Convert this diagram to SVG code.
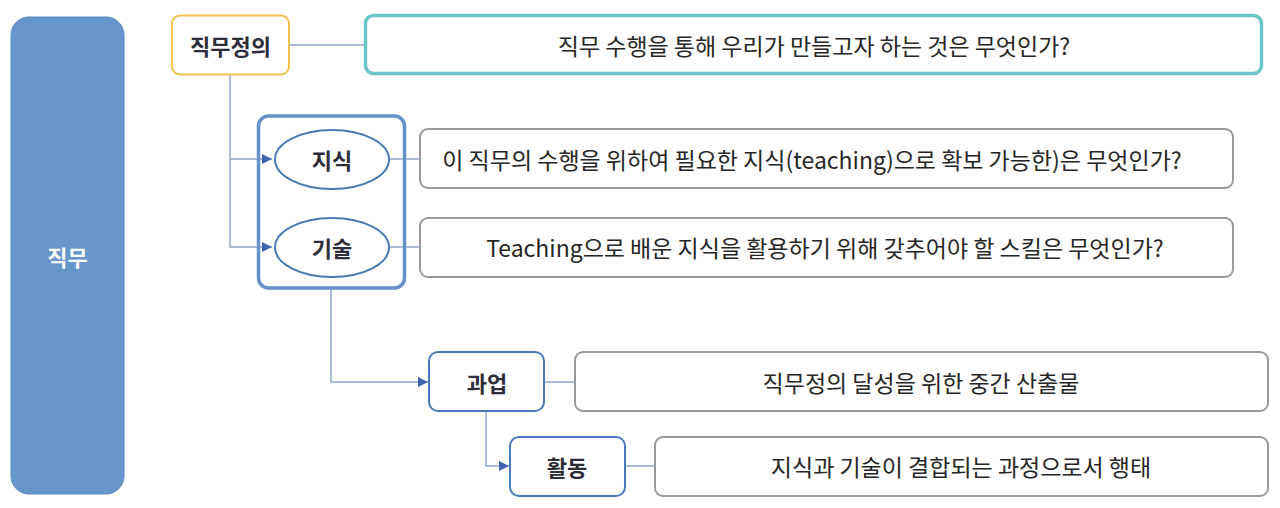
<svg xmlns="http://www.w3.org/2000/svg" width="1280" height="508" viewBox="0 0 1280 508">
<style>
.lbl{font-family:"Noto Sans CJK KR","Noto Sans",sans-serif;font-weight:bold;font-size:22px;fill:#2d2d3a;text-anchor:middle;dominant-baseline:central}
.desc{font-family:"Noto Sans CJK KR","Noto Sans",sans-serif;font-size:23px;fill:#262626;text-anchor:middle;dominant-baseline:central}
.gray{fill:#fff;stroke:#9a9a9a;stroke-width:2}
.blue{fill:#fff;stroke:#4a79b8;stroke-width:2}
.con{fill:none;stroke:#8ea6cc;stroke-width:1.5}
</style>
<defs>
<marker id="arr" viewBox="0 0 10 10" refX="10" refY="5" markerWidth="10" markerHeight="10" markerUnits="userSpaceOnUse" orient="auto">
<path d="M0,0 L10,5 L0,10 z" fill="#3f62b0"/>
</marker>
</defs>
<g id="connectors">
<path class="con" d="M289,45 H365"/>
<path class="con" d="M230,75 V247 H272" marker-end="url(#arr)"/>
<path class="con" d="M230,159 H272" marker-end="url(#arr)"/>
<path class="con" d="M389,159 H420"/>
<path class="con" d="M389,247 H420"/>
<path class="con" d="M331,288 V382 H428" marker-end="url(#arr)"/>
<path class="con" d="M544,382 H575"/>
<path class="con" d="M486,411 V466 H509" marker-end="url(#arr)"/>
<path class="con" d="M625,466 H655"/>
</g>
<g id="jikmu">
<rect x="11" y="17" width="113" height="477" rx="18" fill="#6696cb" stroke="#5b88c0" stroke-width="1"/>
<text x="67.5" y="256" class="lbl" style="fill:#fff">직무</text>
</g>
<g id="jikmujeongui">
<rect x="172" y="15.5" width="117" height="59" rx="8" fill="#fff" stroke="#f1c24a" stroke-width="2"/>
<text x="230.5" y="45" class="lbl">직무정의</text>
</g>
<g id="desc-jeongui">
<rect x="365.5" y="15.5" width="896" height="58" rx="8" fill="#fff" stroke="#6cc5c7" stroke-width="3.5"/>
<text x="814" y="45" class="desc">직무 수행을 통해 우리가 만들고자 하는 것은 무엇인가?</text>
</g>
<g id="group-box">
<rect x="258.5" y="116" width="146" height="172" rx="10" fill="none" stroke="#6590c8" stroke-width="3.5"/>
</g>
<g id="jisik">
<ellipse cx="332" cy="159.5" rx="57" ry="29.5" class="blue"/>
<text x="332" y="159" class="lbl">지식</text>
</g>
<g id="gisul">
<ellipse cx="332" cy="247.5" rx="57" ry="29.5" class="blue"/>
<text x="332" y="247" class="lbl">기술</text>
</g>
<g id="desc-jisik">
<rect x="420" y="129" width="813" height="59" rx="8" class="gray"/>
<text x="812" y="159" class="desc">이 직무의 수행을 위하여 필요한 지식(teaching)으로 확보 가능한)은 무엇인가?</text>
</g>
<g id="desc-gisul">
<rect x="420" y="218" width="813" height="59" rx="8" class="gray"/>
<text x="825" y="247" class="desc">Teaching으로 배운 지식을 활용하기 위해 갖추어야 할 스킬은 무엇인가?</text>
</g>
<g id="gwaeop">
<rect x="429" y="352" width="115" height="59" rx="9" class="blue"/>
<text x="487" y="382" class="lbl">과업</text>
</g>
<g id="desc-gwaeop">
<rect x="575" y="352" width="693" height="59" rx="8" class="gray"/>
<text x="921" y="382" class="desc">직무정의 달성을 위한 중간 산출물</text>
</g>
<g id="hwaldong">
<rect x="510" y="437" width="115" height="59" rx="9" class="blue"/>
<text x="567" y="466" class="lbl">활동</text>
</g>
<g id="desc-hwaldong">
<rect x="655" y="437" width="613" height="59" rx="8" class="gray"/>
<text x="961" y="466" class="desc">지식과 기술이 결합되는 과정으로서 행태</text>
</g>
</svg>
